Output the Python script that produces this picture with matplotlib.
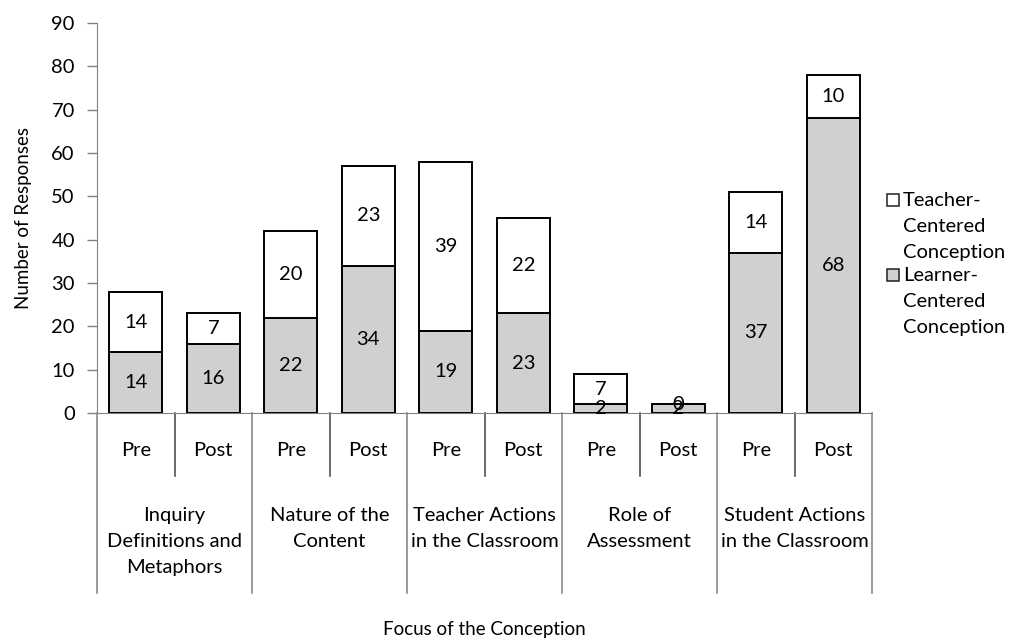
import matplotlib.pyplot as plt
import matplotlib.transforms as mtransforms
from matplotlib.lines import Line2D

plt.rcParams['font.family'] = ['Lato', 'DejaVu Sans']

# data
groups = ['Inquiry\nDefinitions and\nMetaphors', 'Nature of the\nContent',
          'Teacher Actions\nin the Classroom', 'Role of\nAssessment',
          'Student Actions\nin the Classroom']
phases = ['Pre', 'Post']
learner = [14, 16, 22, 34, 19, 23, 2, 2, 37, 68]
teacher = [14, 7, 20, 23, 39, 22, 7, 0, 14, 10]

grey = '#d0d0d0'
axis_col = '#808080'
fs = 14.5

fig = plt.figure(figsize=(10.13, 6.39), dpi=100)
ax = fig.add_axes([97/1013, 1-413/639, (872-97)/1013, 390/639])

x = list(range(len(learner)))
bw = 0.68
ax.bar(x, learner, bw, color=grey, edgecolor='black', linewidth=1.4, zorder=3)
ax.bar(x, teacher, bw, bottom=learner, color='white', edgecolor='black', linewidth=1.4, zorder=3)

for i in x:
    ax.text(i, learner[i]/2, str(learner[i]), ha='center', va='center', fontsize=fs, zorder=4)
    ax.text(i, learner[i] + teacher[i]/2, str(teacher[i]), ha='center', va='center', fontsize=fs, zorder=4)

ax.set_xlim(-0.5, len(x) - 0.5)
ax.set_ylim(0, 90)
ax.set_yticks(range(0, 91, 10))
ax.tick_params(axis='y', labelsize=fs, length=7, width=1, color=axis_col, direction='out', pad=9)
ax.set_xticks([])
for s in ['top', 'right']:
    ax.spines[s].set_visible(False)
ax.spines['left'].set_color(axis_col)
ax.spines['bottom'].set_color(axis_col)
ax.set_ylabel('Number of Responses', fontsize=13.5, labelpad=14)

# multi-level category axis
trans = mtransforms.blended_transform_factory(ax.transData, ax.transAxes)
for i in x:
    ax.text(i, -0.097, phases[i % 2], transform=trans, ha='center', va='center', fontsize=fs)
    if i % 2 == 1:
        ax.plot([i - 0.5, i - 0.5], [0, -0.162], transform=trans, color='#404040', lw=1.1, clip_on=False)
for g in range(len(groups) + 1):
    ax.plot([2*g - 0.5, 2*g - 0.5], [0, -0.462], transform=trans, color=axis_col, lw=1.1, clip_on=False)
for g, name in enumerate(groups):
    ax.text(2*g + 0.5, -0.24, name, transform=trans, ha='center', va='top', fontsize=fs, linespacing=1.65)

fig.text(484.5/1013, 1-629/639, 'Focus of the Conception', ha='center', va='center', fontsize=13.5)

# legend
for ypix, label, col in [(200, 'Teacher-\nCentered\nConception', 'white'),
                          (275, 'Learner-\nCentered\nConception', grey)]:
    fig.add_artist(Line2D([893/1013], [1-ypix/639], marker='s', markersize=9, markerfacecolor=col,
                          markeredgecolor='#202020', markeredgewidth=1.1, linestyle='none'))
    fig.text(903/1013, 1-(ypix-8)/639, label, ha='left', va='top', fontsize=fs, linespacing=1.65)

fig.savefig('out.png', dpi=100)
